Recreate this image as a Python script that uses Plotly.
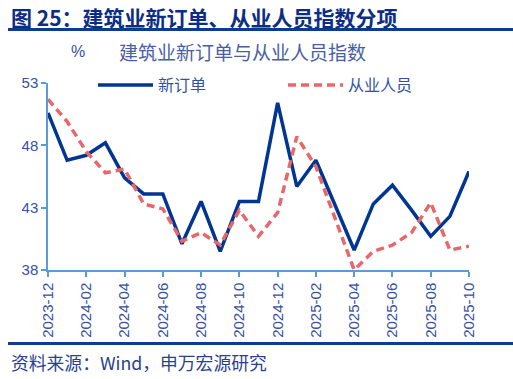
import plotly.graph_objects as go

months = ["2023-12", "2024-01", "2024-02", "2024-03", "2024-04", "2024-05", "2024-06",
          "2024-07", "2024-08", "2024-09", "2024-10", "2024-11", "2024-12", "2025-01",
          "2025-02", "2025-03", "2025-04", "2025-05", "2025-06", "2025-07", "2025-08",
          "2025-09", "2025-10"]
new_orders = [50.6, 46.8, 47.2, 48.2, 45.4, 44.1, 44.1, 40.1, 43.5, 39.5, 43.5, 43.5,
              51.4, 44.7, 46.8, 43.2, 39.6, 43.3, 44.8, 42.8, 40.7, 42.3, 45.9]
employment = [51.7, 49.9, 47.5, 45.8, 46.1, 43.3, 42.9, 40.3, 41.0, 40.0, 42.8, 40.7,
              42.6, 48.7, 46.3, 42.2, 38.0, 39.5, 40.0, 41.0, 43.4, 39.6, 39.9]
tick_labels = months[::2]
y_ticks = [38, 43, 48, 53]

NAVY = "#003591"
RED = "#e8676a"
AXIS = "#5b9bd5"
TXT = "#3651a3"
FONT = "Liberation Sans, Arial, Noto Sans CJK SC"
CJK = "Noto Sans CJK SC, Liberation Sans"

L, R, T, B = 48, 44, 83, 109
PW, PH = 513 - L - R, 379 - T - B


def px_x(p):
    return (p - L) / PW


def px_y(p):
    return (379 - B - p) / PH


fig = go.Figure()
fig.add_trace(go.Scatter(x=months, y=new_orders, mode="lines", name="新订单",
                         line=dict(color=NAVY, width=3.5)))
fig.add_trace(go.Scatter(x=months, y=employment, mode="lines", name="从业人员",
                         line=dict(color=RED, width=3.5, dash="8px,5px")))

fig.update_layout(
    width=513, height=379,
    margin=dict(l=L, r=R, t=T, b=B, autoexpand=False),
    paper_bgcolor="white", plot_bgcolor="white",
    font=dict(family=FONT, color=TXT, size=15),
    showlegend=True,
    legend=dict(orientation="h", x=px_x(93), xanchor="left", y=px_y(85), yanchor="middle",
                bgcolor="rgba(0,0,0,0)", font=dict(family=CJK, size=16, color=TXT),
                itemwidth=55, entrywidth=120, entrywidthmode="pixels",
                borderwidth=0),
    xaxis=dict(type="category", range=[0, len(months) - 1], automargin=False,
               tickmode="array", tickvals=tick_labels, ticktext=tick_labels,
               tickangle=-90, showgrid=False, showline=True, linecolor=AXIS, linewidth=1.5,
               ticks="outside", ticklen=5, tickcolor=AXIS, tickwidth=1.5,
               tickfont=dict(size=15, color=TXT), zeroline=False),
    yaxis=dict(range=[38, 53], tickmode="array", tickvals=y_ticks, automargin=False,
               showgrid=False, showline=True, linecolor=AXIS, linewidth=1.5,
               ticks="outside", ticklen=5, tickcolor=AXIS, tickwidth=1.5,
               tickfont=dict(size=15, color=TXT), zeroline=False),
)

fig.add_annotation(text="<b>图 25：建筑业新订单、从业人员指数分项</b>", xref="paper", yref="paper",
                   x=px_x(9), y=px_y(17), xanchor="left", yanchor="middle",
                   showarrow=False, font=dict(family=CJK, size=21, color="#0d2d85"))
fig.add_shape(type="line", xref="paper", yref="paper", x0=px_x(8), x1=px_x(513),
              y0=px_y(29.5), y1=px_y(29.5), line=dict(color="#0d3a93", width=3))
fig.add_annotation(text="%", xref="paper", yref="paper", x=px_x(78), y=px_y(51),
                   xanchor="center", yanchor="middle", showarrow=False,
                   font=dict(family=FONT, size=16, color=TXT))
fig.add_annotation(text="建筑业新订单与从业人员指数", xref="paper", yref="paper", x=px_x(117),
                   y=px_y(51), xanchor="left", yanchor="middle", showarrow=False,
                   font=dict(family=CJK, size=19, color="#4a5ea6"))
fig.add_shape(type="line", xref="paper", yref="paper", x0=px_x(8), x1=px_x(513),
              y0=px_y(343.5), y1=px_y(343.5), line=dict(color="#0d3a93", width=3))
fig.add_annotation(text="资料来源：Wind，申万宏源研究", xref="paper", yref="paper", x=px_x(9),
                   y=px_y(362), xanchor="left", yanchor="middle", showarrow=False,
                   font=dict(family=CJK, size=17.8, color="#2b3f8f"))

fig.write_html("out.html", config={"displayModeBar": False},
               post_script="document.body.style.margin='0';")
